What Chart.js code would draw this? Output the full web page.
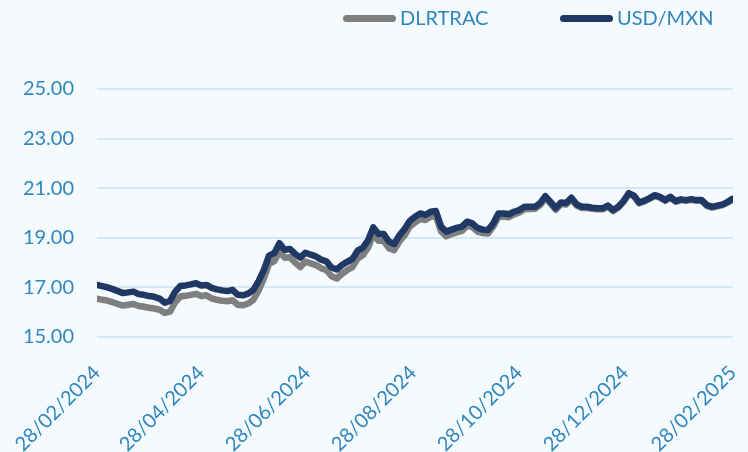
<!DOCTYPE html>
<html>
<head>
<meta charset="utf-8">
<script src="https://cdn.jsdelivr.net/npm/chart.js@4.4.1/dist/chart.umd.min.js"></script>
<style>
  html, body { margin: 0; padding: 0; background: #f5faff; }
  #wrap { position: relative; width: 748px; height: 452px; }
  #legend { position: absolute; top: 0; left: 0; width: 748px; height: 34px; font-family: Lato, sans-serif; font-size: 20px; color: #2f87bd; }
  .item { position: absolute; top: 6px; height: 22px; line-height: 22px; white-space: nowrap; }
  .swatch { display: inline-block; width: 53px; height: 7px; border-radius: 3.5px; vertical-align: middle; margin-right: 4px; position: relative; top: -1px; }
</style>
</head>
<body>
<div id="wrap">
  <canvas id="chart" width="748" height="452"></canvas>
  <div id="legend"></div>
</div>
<script>
const seriesNames = ['DLRTRAC', 'USD/MXN'];
const seriesColors = ['#7f7f7f', '#1f3864'];
const legendLeft = [343, 560];

const tickLabels = ['28/02/2024', '28/04/2024', '28/06/2024', '28/08/2024', '28/10/2024', '28/12/2024', '28/02/2025'];
const yTicks = [15, 17, 19, 21, 23, 25];

// one reading every 3 days from 28/02/2024
const stepDays = 3;

const dlrtrac = [
  16.55, 16.50, 16.47, 16.40, 16.33, 16.27, 16.30, 16.33, 16.25, 16.22,
  16.18, 16.15, 16.10, 15.97, 16.02, 16.40, 16.63, 16.66, 16.70, 16.74,
  16.65, 16.68, 16.56, 16.50, 16.46, 16.44, 16.48, 16.30, 16.28, 16.35,
  16.50, 16.88, 17.35, 17.95, 18.06, 18.45, 18.20, 18.22, 18.00, 17.82,
  18.04, 17.97, 17.90, 17.77, 17.70, 17.45, 17.36, 17.55, 17.70, 17.82,
  18.16, 18.30, 18.60, 19.14, 18.88, 18.88, 18.58, 18.50, 18.85, 19.10,
  19.45, 19.62, 19.76, 19.72, 19.85, 19.88, 19.26, 19.06, 19.15, 19.22,
  19.28, 19.49, 19.43, 19.25, 19.19, 19.17, 19.45, 19.85, 19.86, 19.83,
  19.94, 20.02, 20.15, 20.16, 20.17, 20.32, 20.60, 20.38, 20.13, 20.36,
  20.34, 20.56, 20.30, 20.20, 20.20, 20.17, 20.15, 20.15, 20.26, 20.08,
  20.22, 20.45, 20.77, 20.67, 20.39, 20.47, 20.57, 20.69, 20.62, 20.49,
  20.62, 20.45, 20.52, 20.49, 20.53, 20.49, 20.49, 20.29, 20.22, 20.27,
  20.32, 20.42, 20.55
];

const usdmxn = [
  17.10, 17.05, 17.00, 16.93, 16.85, 16.77, 16.80, 16.83, 16.73, 16.70,
  16.65, 16.62, 16.55, 16.38, 16.45, 16.83, 17.06, 17.08, 17.12, 17.17,
  17.08, 17.10, 16.98, 16.92, 16.88, 16.85, 16.90, 16.70, 16.68, 16.75,
  16.90, 17.25, 17.70, 18.28, 18.38, 18.78, 18.52, 18.55, 18.35, 18.20,
  18.40, 18.32, 18.25, 18.12, 18.05, 17.80, 17.72, 17.90, 18.03, 18.15,
  18.48, 18.60, 18.90, 19.42, 19.15, 19.15, 18.85, 18.75, 19.10, 19.35,
  19.68, 19.85, 19.98, 19.92, 20.05, 20.08, 19.45, 19.25, 19.33, 19.40,
  19.45, 19.65, 19.58, 19.40, 19.33, 19.31, 19.58, 19.98, 19.98, 19.95,
  20.05, 20.12, 20.25, 20.25, 20.25, 20.40, 20.68, 20.45, 20.20, 20.42,
  20.40, 20.62, 20.35, 20.25, 20.25, 20.21, 20.19, 20.19, 20.30, 20.12,
  20.25, 20.48, 20.80, 20.70, 20.42, 20.50, 20.60, 20.72, 20.65, 20.52,
  20.65, 20.48, 20.55, 20.52, 20.56, 20.52, 20.52, 20.32, 20.25, 20.30,
  20.35, 20.45, 20.58
];

const DAY = 864e5;
const start = Date.UTC(2024, 1, 28);
function dayOf(label) {
  const [d, m, y] = label.split('/').map(Number);
  return Math.round((Date.UTC(y, m - 1, d) - start) / DAY);
}
const tickDays = tickLabels.map(dayOf);
const days = usdmxn.map((_, i) => i * stepDays);

const textColor = '#2f87bd';
const font = { family: 'Lato, sans-serif', size: 20 };

function line(name, values, color, order) {
  return {
    label: name,
    data: days.map((d, i) => ({ x: d, y: values[i] })),
    borderColor: color,
    backgroundColor: color,
    borderWidth: 6.5,
    borderCapStyle: 'round',
    borderJoinStyle: 'round',
    pointRadius: 0,
    tension: 0,
    order: order
  };
}

const datasets = [
  line(seriesNames[0], dlrtrac, seriesColors[0], 1),
  line(seriesNames[1], usdmxn, seriesColors[1], 0)
];

const ctx = document.getElementById('chart').getContext('2d');
new Chart(ctx, {
  type: 'line',
  data: { datasets },
  options: {
    responsive: false,
    animation: false,
    devicePixelRatio: 1,
    layout: { padding: { top: 89, right: 15, bottom: 0, left: 0 } },
    plugins: { legend: { display: false }, tooltip: { enabled: false } },
    scales: {
      x: {
        type: 'linear',
        min: tickDays[0],
        max: tickDays[tickDays.length - 1],
        afterBuildTicks: s => { s.ticks = tickDays.map(v => ({ value: v })); },
        afterFit: s => { s.height = 115; s.paddingRight = 0; s.paddingLeft = 0; },
        grid: { display: false },
        border: { display: false },
        ticks: {
          autoSkip: false,
          minRotation: 45,
          maxRotation: 45,
          padding: 16,
          color: textColor,
          font: font,
          callback: v => { const i = tickDays.indexOf(v); return i < 0 ? '' : tickLabels[i]; }
        }
      },
      y: {
        min: yTicks[0],
        max: yTicks[yTicks.length - 1],
        afterBuildTicks: s => { s.ticks = yTicks.map(v => ({ value: v })); },
        afterFit: s => { s.width = 97; },
        grid: { color: '#d3e9f6', lineWidth: 2, drawTicks: false },
        border: { display: false },
        ticks: { padding: 23, color: textColor, font: font, callback: v => v.toFixed(2) }
      }
    }
  }
});

const legend = document.getElementById('legend');
seriesNames.forEach((name, i) => {
  const item = document.createElement('div');
  item.className = 'item';
  item.style.left = legendLeft[i] + 'px';
  const sw = document.createElement('span');
  sw.className = 'swatch';
  sw.style.background = seriesColors[i];
  item.appendChild(sw);
  item.appendChild(document.createTextNode(name));
  legend.appendChild(item);
});
</script>
</body>
</html>
